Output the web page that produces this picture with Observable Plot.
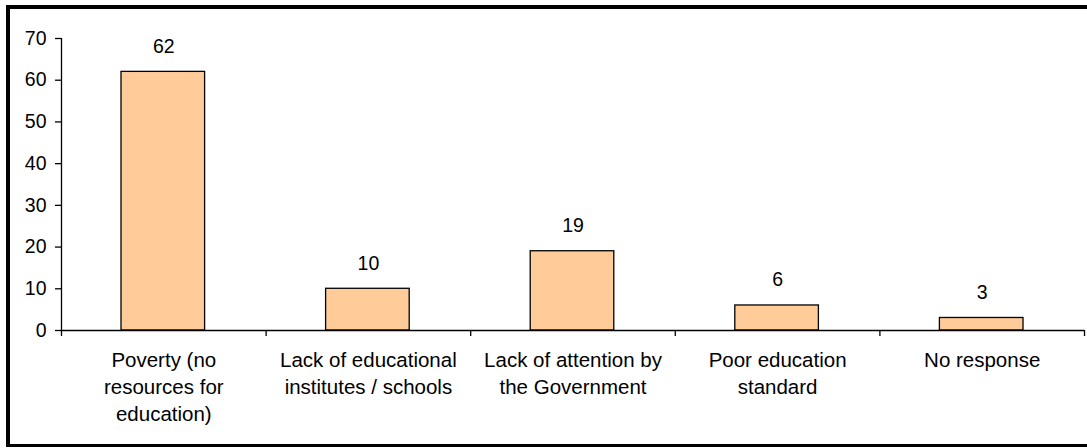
<!DOCTYPE html>
<html>
<head>
<meta charset="utf-8">
<script src="https://cdn.jsdelivr.net/npm/d3@7"></script>
<script src="https://cdn.jsdelivr.net/npm/@observablehq/plot@0.6"></script>
<style>
  html, body { margin: 0; padding: 0; background: #fff; overflow: hidden; }
  #wrap { position: relative; width: 1087px; height: 448px; overflow: hidden; }
  #wrap svg { position: absolute; left: 0; top: 0; }
  #frame { position: absolute; left: 6px; top: 5px; width: 1100px; height: 442px;
           box-sizing: border-box; border-style: solid; border-color: #000;
           border-width: 4px 4px 3.5px 4px; pointer-events: none; }
</style>
</head>
<body>
<div id="wrap"><div id="frame"></div></div>
<script>
const categories = [
  "Poverty (no\nresources for\neducation)",
  "Lack of educational\ninstitutes / schools",
  "Lack of attention by\nthe Government",
  "Poor education\nstandard",
  "No response"
];
const values = [62, 10, 19, 6, 3];
const yTicks = [0, 10, 20, 30, 40, 50, 60, 70];

const data = categories.map((c, i) => ({category: c, value: values[i], i0: i, i1: i + 1, mid: i + 0.5}));
const boundaries = d3.range(categories.length + 1);

const font = "'Liberation Sans', Arial, sans-serif";

const chart = Plot.plot({
  width: 1087,
  height: 448,
  marginLeft: 61,
  marginRight: 3,
  marginTop: 38,
  marginBottom: 118,
  style: {fontFamily: font, fontSize: "19.5px", color: "#000", background: "transparent"},
  x: {type: "linear", domain: [0, categories.length]},
  y: {domain: [0, 70]},
  marks: [
    Plot.rectY(data, {x1: "i0", x2: "i1", y1: 0, y2: "value", insetLeft: 60, insetRight: 61,
      fill: "#FFCC99", stroke: "#000", strokeWidth: 1.3}),
    Plot.ruleX([0], {y1: 0, y2: 70, stroke: "#000", strokeWidth: 1.3}),
    Plot.ruleY([0], {stroke: "#000", strokeWidth: 1.3}),
    Plot.axisY({ticks: yTicks, tickSize: 6, tickPadding: 9, tickFormat: d => String(d),
      fontSize: 19.5, stroke: "#000", strokeWidth: 1.3, label: null}),
    Plot.axisX({ticks: boundaries, tickSize: 6, tickFormat: () => "", stroke: "#000", strokeWidth: 1.3, label: null}),
    Plot.text(data, {x: "mid", y: 0, text: "category", lineAnchor: "top", lineHeight: 1.32,
      dy: 17, fontSize: 20.5, fill: "#000"}),
    Plot.text(data, {x: "mid", y: "value", text: d => String(d.value), lineAnchor: "bottom",
      dy: -19, fontSize: 19.5, fill: "#000"})
  ]
});
document.getElementById("wrap").insertBefore(chart, document.getElementById("frame"));
</script>
</body>
</html>
